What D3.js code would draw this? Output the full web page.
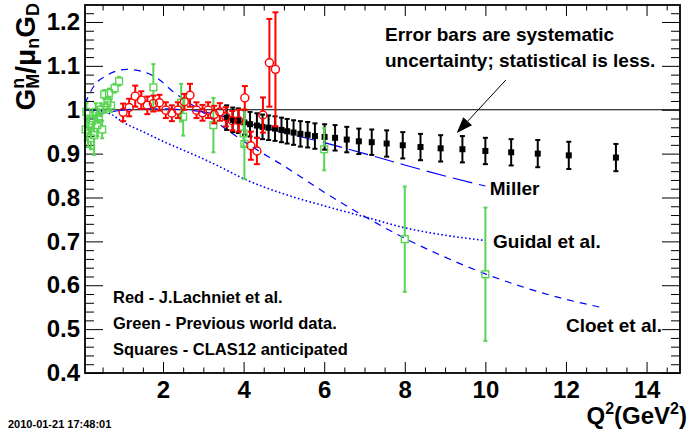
<!DOCTYPE html>
<html>
<head>
<meta charset="utf-8">
<script src="https://cdn.jsdelivr.net/npm/d3@7"></script>
<style>
  body { margin: 0; background: #fff; }
  text { font-family: "Liberation Sans", Arial, Helvetica, sans-serif; font-weight: bold; fill: #000; }
</style>
</head>
<body>
<svg id="chart" width="687" height="433"></svg>
<script>
// --- data: [Q^2, GMn/(mu_n GD), error] ---
var lachniet = [
  [1.01, 0.994, 0.020], [1.16, 1.005, 0.020], [1.31, 1.031, 0.024], [1.46, 1.022, 0.020],
  [1.61, 1.010, 0.020], [1.76, 1.014, 0.018], [1.91, 1.016, 0.018], [2.07, 0.999, 0.018],
  [2.22, 0.992, 0.018], [2.37, 0.999, 0.018], [2.53, 1.018, 0.018], [2.67, 1.033, 0.026],
  [2.83, 0.999, 0.018], [2.98, 0.993, 0.018], [3.12, 0.999, 0.018], [3.27, 0.989, 0.020],
  [3.41, 0.995, 0.020], [3.56, 0.984, 0.022], [3.72, 0.975, 0.022], [3.88, 0.975, 0.025],
  [4.03, 1.027, 0.027], [4.18, 0.918, 0.032], [4.33, 0.906, 0.030], [4.48, 0.988, 0.040],
  [4.64, 1.107, 0.100], [4.79, 1.092, 0.130]
];

var worldData = [
  [0.08, 0.955, 0.025], [0.10, 0.995, 0.020], [0.14, 0.945, 0.030], [0.17, 0.965, 0.020],
  [0.21, 0.935, 0.025], [0.25, 0.975, 0.020], [0.29, 0.942, 0.045], [0.33, 0.995, 0.020],
  [0.37, 0.965, 0.025], [0.41, 0.985, 0.015], [0.45, 1.000, 0.015], [0.49, 0.955, 0.020],
  [0.54, 1.035, 0.010], [0.58, 1.005, 0.012], [0.62, 1.015, 0.013], [0.66, 1.038, 0.010],
  [0.71, 1.010, 0.015], [0.80, 1.049, 0.010], [0.91, 1.065, 0.010],
  [1.76, 1.051, 0.053], [2.45, 1.016, 0.043], [2.50, 0.984, 0.043], [3.25, 0.965, 0.062],
  [4.00, 0.946, 0.030], [4.02, 0.922, 0.080], [6.00, 0.910, 0.048],
  [8.00, 0.705, 0.120], [10.00, 0.625, 0.152]
];

var clas12 = [
  [3.58, 0.982, 0.028], [3.73, 0.977, 0.028], [3.87, 0.975, 0.028], [4.02, 0.971, 0.028],
  [4.16, 0.967, 0.028], [4.33, 0.964, 0.028], [4.47, 0.961, 0.028], [4.62, 0.959, 0.028],
  [4.78, 0.957, 0.028], [4.94, 0.954, 0.028], [5.08, 0.951, 0.028], [5.24, 0.948, 0.028],
  [5.41, 0.945, 0.029], [5.59, 0.943, 0.029], [5.77, 0.940, 0.029], [6.01, 0.938, 0.029],
  [6.27, 0.936, 0.029], [6.56, 0.932, 0.029], [6.86, 0.928, 0.029], [7.18, 0.926, 0.029],
  [7.55, 0.923, 0.030], [7.95, 0.919, 0.030], [8.39, 0.915, 0.030], [8.89, 0.912, 0.030],
  [9.43, 0.910, 0.030], [10.00, 0.906, 0.030], [10.64, 0.903, 0.030], [11.30, 0.900, 0.031],
  [12.07, 0.896, 0.031], [13.24, 0.891, 0.031]
];

// theory curves [Q^2, value]
var miller = [
  [0.06, 0.978], [0.3, 0.985], [0.6, 0.993], [1.0, 0.999], [1.5, 1.002], [2.0, 1.002],
  [2.5, 1.000], [3.0, 0.995], [3.5, 0.985], [4.0, 0.972], [4.5, 0.960], [5.0, 0.948],
  [6.0, 0.925], [7.0, 0.900], [8.0, 0.874], [9.0, 0.849], [10.0, 0.826]
];
var guidal = [
  [0.06, 1.000], [0.3, 0.998], [0.7, 0.990], [1.0, 0.972], [1.5, 0.950], [2.0, 0.928],
  [2.5, 0.908], [3.0, 0.888], [3.5, 0.866], [4.0, 0.843], [5.0, 0.808], [6.0, 0.781],
  [7.0, 0.756], [8.0, 0.731], [9.0, 0.714], [10.0, 0.702]
];
var cloet = [
  [0.06, 1.014], [0.3, 1.056], [0.6, 1.078], [1.1, 1.092], [1.5, 1.087], [1.9, 1.069],
  [2.2, 1.045], [2.9, 1.000], [3.3, 0.973], [4.2, 0.916], [5.0, 0.872], [6.0, 0.812],
  [7.0, 0.757], [8.0, 0.707], [9.0, 0.664], [10.0, 0.626], [11.0, 0.594], [12.0, 0.568],
  [12.9, 0.549]
];

var xTicks = [2, 4, 6, 8, 10, 12, 14];
var yTicks = [0.4, 0.5, 0.6, 0.7, 0.8, 0.9, 1.0, 1.1, 1.2];

// annotation anchors in data units
var curveLabels = [
  { text: 'Miller', q: 10.11, v: 0.805 },
  { text: 'Guidal et al.', q: 10.19, v: 0.685 },
  { text: 'Cloet et al.', q: 12.0, v: 0.494 }
];
var legendLines = ['Red - J.Lachniet et al.', 'Green - Previous world data.', 'Squares - CLAS12 anticipated'];
var noteLines = ['Error bars are systematic', 'uncertainty; statistical is less.'];
var arrowFromTo = [[10.51, 1.068], [9.29, 0.947]];

var frame = { left: 85, right: 680, top: 5, bottom: 373 };

var svg = d3.select('#chart');

var x = d3.scaleLinear().domain([0.064, 14.83]).range([frame.left, frame.right]);
var y = d3.scaleLinear().domain([0.4, 1.2387]).range([frame.bottom, frame.top]);

// axes, ROOT style: ticks pointing inward, mirrored on top and right
function fmtY(d) { return d === 1 ? '1' : d3.format('.1f')(d); }

var minorX = d3.range(0.5, 14.81, 0.5).filter(function (d) { return d % 2 !== 0; });
var minorY = d3.range(0.42, 1.239, 0.02).filter(function (d) { return Math.abs(d * 10 - Math.round(d * 10)) > 0.01; });

function addAxis(axis, tx, ty) {
  var g = svg.append('g').attr('transform', 'translate(' + tx + ',' + ty + ')').call(axis);
  g.select('.domain').remove();
  g.selectAll('line').attr('stroke', '#000').attr('stroke-width', 1);
  g.selectAll('text').style('font-size', '24px').attr('fill', '#000');
  return g;
}

addAxis(d3.axisBottom(x).tickValues(xTicks).tickSize(-11).tickPadding(8).tickFormat(d3.format('d')), 0, frame.bottom);
addAxis(d3.axisBottom(x).tickValues(minorX).tickSize(-5.5).tickFormat(''), 0, frame.bottom);
addAxis(d3.axisTop(x).tickValues(xTicks).tickSize(-11).tickFormat(''), 0, frame.top);
addAxis(d3.axisTop(x).tickValues(minorX).tickSize(-5.5).tickFormat(''), 0, frame.top);

addAxis(d3.axisLeft(y).tickValues(yTicks).tickSize(-18).tickPadding(5).tickFormat(fmtY), frame.left, 0);
addAxis(d3.axisLeft(y).tickValues(minorY).tickSize(-9).tickFormat(''), frame.left, 0);
addAxis(d3.axisRight(y).tickValues(yTicks).tickSize(-18).tickFormat(''), frame.right, 0);
addAxis(d3.axisRight(y).tickValues(minorY).tickSize(-9).tickFormat(''), frame.right, 0);

// reference line at 1
svg.append('line')
  .attr('x1', frame.left).attr('x2', frame.right)
  .attr('y1', y(1)).attr('y2', y(1))
  .attr('stroke', '#000').attr('stroke-width', 1.2);

// theory curves
var plot = svg.append('g');
var line = d3.line()
  .x(function (d) { return x(d[0]); })
  .y(function (d) { return y(d[1]); })
  .curve(d3.curveMonotoneX);

plot.append('path').datum(miller).attr('d', line)
  .attr('fill', 'none').attr('stroke', '#0000ff').attr('stroke-width', 1.2).attr('stroke-dasharray', '20,7');
plot.append('path').datum(guidal).attr('d', line)
  .attr('fill', 'none').attr('stroke', '#0000ff').attr('stroke-width', 1.6).attr('stroke-dasharray', '1.6,2.4');
plot.append('path').datum(cloet).attr('d', line)
  .attr('fill', 'none').attr('stroke', '#0000ff').attr('stroke-width', 1.2).attr('stroke-dasharray', '7,6');

// points with error bars; the bar stops at the marker edge like ROOT does
function drawSeries(data, opts) {
  var g = plot.append('g');
  var pts = g.selectAll('g.pt').data(data).enter().append('g').attr('class', 'pt');

  pts.append('line')
    .attr('x1', function (d) { return x(d[0]); })
    .attr('x2', function (d) { return x(d[0]); })
    .attr('y1', function (d) { return y(d[1] + d[2]); })
    .attr('y2', function (d) { return y(d[1]) - opts.gap; })
    .attr('stroke', opts.color).attr('stroke-width', opts.width);
  pts.append('line')
    .attr('x1', function (d) { return x(d[0]); })
    .attr('x2', function (d) { return x(d[0]); })
    .attr('y1', function (d) { return y(d[1]) + opts.gap; })
    .attr('y2', function (d) { return y(d[1] - d[2]); })
    .attr('stroke', opts.color).attr('stroke-width', opts.width);

  // end caps
  [1, -1].forEach(function (s) {
    pts.append('line')
      .attr('x1', function (d) { return x(d[0]) - opts.cap; })
      .attr('x2', function (d) { return x(d[0]) + opts.cap; })
      .attr('y1', function (d) { return y(d[1] + s * d[2]); })
      .attr('y2', function (d) { return y(d[1] + s * d[2]); })
      .attr('stroke', opts.color).attr('stroke-width', opts.width);
  });

  if (opts.marker === 'circle') {
    pts.append('circle')
      .attr('cx', function (d) { return x(d[0]); })
      .attr('cy', function (d) { return y(d[1]); })
      .attr('r', opts.size)
      .attr('fill', 'none').attr('stroke', opts.color).attr('stroke-width', 1.4);
  } else {
    pts.append('rect')
      .attr('x', function (d) { return x(d[0]) - opts.size; })
      .attr('y', function (d) { return y(d[1]) - opts.size; })
      .attr('width', opts.size * 2).attr('height', opts.size * 2)
      .attr('fill', opts.filled ? opts.color : 'none')
      .attr('stroke', opts.color).attr('stroke-width', opts.filled ? 0 : 1.4);
  }
}

drawSeries(clas12, { color: '#000', width: 2, cap: 2.5, marker: 'square', size: 3, filled: true, gap: 0 });
drawSeries(worldData, { color: '#59d454', width: 2, cap: 2, marker: 'square', size: 3.4, filled: false, gap: 3.4 });
drawSeries(lachniet, { color: '#ff0000', width: 2, cap: 3, marker: 'circle', size: 4, gap: 4 });

// frame
svg.append('rect')
  .attr('x', frame.left).attr('y', frame.top)
  .attr('width', frame.right - frame.left).attr('height', frame.bottom - frame.top)
  .attr('fill', 'none').attr('stroke', '#000').attr('stroke-width', 1.8);

// curve labels
svg.selectAll('text.clabel').data(curveLabels).enter().append('text')
  .attr('class', 'clabel')
  .attr('x', function (d) { return x(d.q); })
  .attr('y', function (d) { return y(d.v); })
  .style('font-size', '19px')
  .text(function (d) { return d.text; });

// legend block
svg.selectAll('text.legend').data(legendLines).enter().append('text')
  .attr('class', 'legend')
  .attr('x', x(0.76))
  .attr('y', function (d, i) { return 303 + i * 26; })
  .style('font-size', '16.5px')
  .text(function (d) { return d; });

// note + arrow
svg.selectAll('text.note').data(noteLines).enter().append('text')
  .attr('class', 'note')
  .attr('x', 385)
  .attr('y', function (d, i) { return 41 + i * 26; })
  .style('font-size', '19px')
  .text(function (d) { return d; });

var a0 = [x(arrowFromTo[0][0]), y(arrowFromTo[0][1])];
var a1 = [x(arrowFromTo[1][0]), y(arrowFromTo[1][1])];
var ang = Math.atan2(a1[1] - a0[1], a1[0] - a0[0]);
var headLen = 16, headW = 6;
var base = [a1[0] - headLen * Math.cos(ang), a1[1] - headLen * Math.sin(ang)];
svg.append('line')
  .attr('x1', a0[0]).attr('y1', a0[1]).attr('x2', base[0]).attr('y2', base[1])
  .attr('stroke', '#000').attr('stroke-width', 1);
svg.append('path')
  .attr('d', 'M' + a1[0] + ',' + a1[1] +
    'L' + (base[0] + headW * Math.sin(ang)) + ',' + (base[1] - headW * Math.cos(ang)) +
    'L' + (base[0] - headW * Math.sin(ang)) + ',' + (base[1] + headW * Math.cos(ang)) + 'Z')
  .attr('fill', '#000');

// axis titles
var yTitle = svg.append('text')
  .attr('transform', 'translate(35,3) rotate(-90)')
  .attr('text-anchor', 'end')
  .style('font-size', '28px');
yTitle.append('tspan').text('G');
yTitle.append('tspan').attr('dy', -11).style('font-size', '18px').text('n');
yTitle.append('tspan').attr('dx', -11).attr('dy', 15).style('font-size', '18px').text('M');
yTitle.append('tspan').attr('dy', -4).text('/\u03bc');
yTitle.append('tspan').attr('dy', 4).style('font-size', '18px').text('n');
yTitle.append('tspan').attr('dy', -4).text('G');
yTitle.append('tspan').attr('dy', 4).style('font-size', '18px').text('D');

var xTitle = svg.append('text')
  .attr('x', 687).attr('y', 424)
  .attr('text-anchor', 'end')
  .style('font-size', '24px');
xTitle.append('tspan').text('Q');
xTitle.append('tspan').attr('dy', -10).style('font-size', '16px').text('2');
xTitle.append('tspan').attr('dy', 10).text('(GeV');
xTitle.append('tspan').attr('dy', -10).style('font-size', '16px').text('2');
xTitle.append('tspan').attr('dy', 10).text(')');

// date stamp
svg.append('text')
  .attr('x', 8).attr('y', 428)
  .style('font-size', '11px')
  .text('2010-01-21 17:48:01');
</script>
</body>
</html>
